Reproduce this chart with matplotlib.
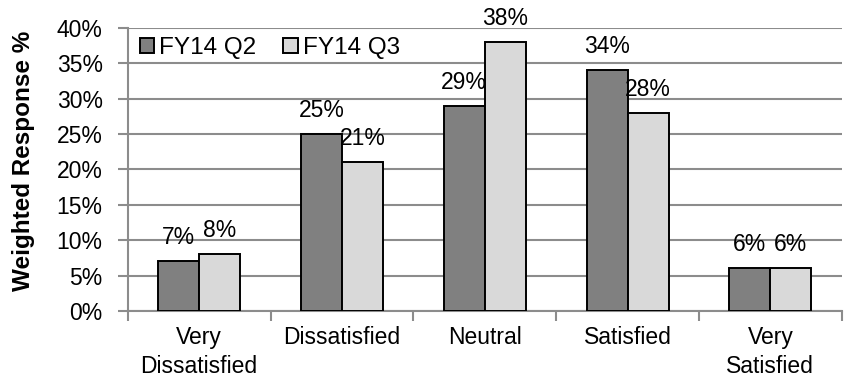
import numpy as np
import matplotlib.pyplot as plt
from matplotlib.ticker import FixedLocator, PercentFormatter

plt.rcParams['font.family'] = ['Liberation Sans', 'DejaVu Sans']

categories = ['Very\nDissatisfied', 'Dissatisfied', 'Neutral', 'Satisfied', 'Very\nSatisfied']
q2 = [7, 25, 29, 34, 6]
q3 = [8, 21, 38, 28, 6]
series_names = ['FY14 Q2', 'FY14 Q3']
series_colors = ['#808080', '#d9d9d9']

fig = plt.figure(figsize=(8.46, 3.82), dpi=100)
ax = fig.add_axes([0.151, 0.186, 0.844, 0.741])

x = np.arange(len(categories))
w = 0.287
grid_col = '#8c8c8c'
fs = 16.5

for i, (vals, name, col) in enumerate(zip([q2, q3], series_names, series_colors)):
    pos = x + (i - 0.5) * w
    bars = ax.bar(pos, vals, w, color=col, edgecolor='black', linewidth=1.4,
                  label=name, zorder=3)
    for b, v in zip(bars, vals):
        ax.annotate(f'{v}%', (b.get_x() + b.get_width() / 2, v),
                    xytext=(0, 17), textcoords='offset points',
                    ha='center', va='center', fontsize=fs, zorder=4)

ax.set_xlim(-0.5, len(categories) - 0.5)
ax.set_ylim(0, 40)
ax.set_yticks(range(0, 41, 5))
ax.yaxis.set_major_formatter(PercentFormatter(decimals=0))
ax.grid(axis='y', color=grid_col, linewidth=1.5, zorder=0)

# category boundaries carry the tick marks, labels sit at the centres
ax.xaxis.set_major_locator(FixedLocator(np.arange(-0.5, len(categories), 1)))
ax.xaxis.set_minor_locator(FixedLocator(x))
ax.set_xticklabels([''] * (len(categories) + 1))
ax.set_xticklabels(categories, minor=True, linespacing=1.3)
ax.tick_params(axis='x', which='major', length=7, width=1.5, color=grid_col)
ax.tick_params(axis='x', which='minor', length=0, pad=11, labelsize=fs)
ax.tick_params(axis='y', length=7, width=1.5, color=grid_col, labelsize=fs, pad=11)

for s in ['top', 'right']:
    ax.spines[s].set_visible(False)
for s in ['left', 'bottom']:
    ax.spines[s].set_color(grid_col)
    ax.spines[s].set_linewidth(1.5)

ax.set_ylabel('Weighted Response %', fontsize=17.5, fontweight='bold')
ax.yaxis.set_label_coords(-0.13, 0.53)

leg = ax.legend(loc='upper left', ncol=2, frameon=False, fontsize=17.5,
                handlelength=0.6, handleheight=0.6, handletextpad=0.2,
                columnspacing=1.1, borderaxespad=0.1, bbox_to_anchor=(0.0, 1.01))

fig.savefig('out.png', dpi=100)
